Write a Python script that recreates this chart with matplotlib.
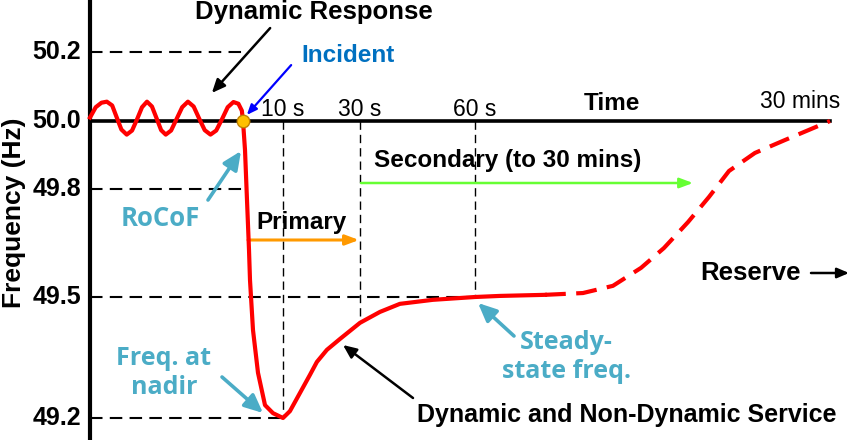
import numpy as np
import matplotlib
matplotlib.use('Agg')
import matplotlib.pyplot as plt

# ---- data (time in s, frequency in Hz) ----
osc_t = [-40, -38.5, -37.0, -35.6, -34.2, -33.0, -31.8, -30.4, -29.0, -27.7,
         -26.4, -25.1, -23.8, -22.6, -21.4, -20.2, -18.8, -17.4, -15.9, -14.4,
         -12.9, -11.5, -10.0, -8.5, -7.0, -5.5, -4.0, -2.5, -1.2, -0.3, 0]
osc_f = [50.01, 50.04, 50.053, 50.056, 50.045, 50.01, 49.975, 49.96, 49.972, 50.005,
         50.04, 50.056, 50.042, 50.008, 49.973, 49.96, 49.972, 50.005, 50.04, 50.056,
         50.042, 50.008, 49.973, 49.96, 49.972, 50.005, 50.04, 50.055, 50.05, 50.03, 50.0]

resp_t = [0, 0.5, 1.0, 1.5, 1.75, 2.5, 3.75, 5.5, 7.5, 10, 11.8, 14.4, 17.0, 18.8,
          21.4, 24.8, 30, 35.2, 40.4, 49.0, 60, 182, 403]
resp_f = [50.0, 49.915, 49.769, 49.631, 49.547, 49.418, 49.312, 49.232, 49.212, 49.2,
          49.217, 49.262, 49.307, 49.339, 49.369, 49.396, 49.436, 49.463, 49.483,
          49.493, 49.5, 49.503, 49.506]

reserve_t = [403, 589, 736, 874, 986, 1104, 1207, 1305, 1432, 1579, 1741, 1800]
reserve_f = [49.506, 49.511, 49.531, 49.581, 49.636, 49.708, 49.778, 49.853, 49.906,
             49.944, 49.985, 50.0]

freq_ticks = [50.2, 50.0, 49.8, 49.5, 49.2]
freq_labels = ['50.2', '50.0', '49.8', '49.5', '49.2']
time_marks = [10, 30, 60]
time_labels = ['10 s', '30 s', '60 s']
t_end = 1800
nadir_t, nadir_f = 10, 49.2
steady_t, steady_f = 60, 49.5
t_start = -40


# ---- non-linear axes of the sketch: piecewise linear scales ----
def piecewise(xp, fp):
    xp = np.asarray(xp, float)
    fp = np.asarray(fp, float)

    def f(x):
        x = np.asarray(x, float)
        y = np.interp(x, xp, fp)
        lo = fp[0] + (x - xp[0]) * (fp[1] - fp[0]) / (xp[1] - xp[0])
        hi = fp[-1] + (x - xp[-1]) * (fp[-1] - fp[-2]) / (xp[-1] - xp[-2])
        return np.where(x < xp[0], lo, np.where(x > xp[-1], hi, y))
    return f


t_knots = [-40, 0, 10, 30, 60, 1800]
t_pix = [90, 243, 283, 360, 475, 830]
f_knots = [49.2, 49.5, 49.8, 50.0, 50.2]
f_pix = [-418, -297, -189, -121, -52]

t_fwd, t_inv = piecewise(t_knots, t_pix), piecewise(t_pix, t_knots)
f_fwd, f_inv = piecewise(f_knots, f_pix), piecewise(f_pix, f_knots)

W, H = 850, 447
fig = plt.figure(figsize=(W / 100, H / 100), dpi=100)
ax = fig.add_axes([0, 0, 1, 1])
ax.set_xscale('function', functions=(t_fwd, t_inv))
ax.set_yscale('function', functions=(f_fwd, f_inv))
ax.set_xlim(float(t_inv(0)), float(t_inv(W)))
ax.set_ylim(float(f_inv(-H)), float(f_inv(0)))
ax.axis('off')

BOLD = dict(family='Liberation Sans', weight='bold')
REG = dict(family='Liberation Sans')
CAL = dict(family='Open Sans', weight='bold')
TEAL = '#4BACC6'


def px(x, y):
    return (x / W, 1 - y / H)


# reference dashed lines
dash_ref = dict(color='black', lw=1.5, ls=(0, (6, 3.5)), zorder=2)
ax.plot([t_start, 0], [50.2, 50.2], **dash_ref)
ax.plot([t_start, 0], [49.8, 49.8], **dash_ref)
ax.plot([t_start, steady_t], [steady_f, steady_f], **dash_ref)
ax.plot([t_start, nadir_t], [nadir_f, nadir_f], **dash_ref)

dash_v = dict(color='black', lw=1.0, ls=(0, (6, 3.6)), zorder=2)
ax.plot([10, 10], [50.0, 49.2], **dash_v)
ax.plot([30, 30], [50.0, 49.436], **dash_v)
ax.plot([60, 60], [50.0, 49.5], **dash_v)

# axes lines
ax.plot([t_start, t_end], [50.0, 50.0], color='black', lw=2.6, zorder=3)
ax.plot([t_start, t_start], [float(f_inv(-440)), float(f_inv(0))],
        color='black', lw=3, solid_capstyle='butt', zorder=3)

# frequency curve
ax.plot(osc_t, osc_f, color='red', lw=3, zorder=4, solid_joinstyle='round')
ax.plot(resp_t, resp_f, color='red', lw=3, zorder=4, solid_joinstyle='round')
ax.plot(reserve_t, reserve_f, color='red', lw=3, ls=(0, (5, 2.5)), zorder=4)
ax.plot([0], [50.0], 'o', ms=9, mfc='#FFC000', mec='#C08000', mew=1, zorder=6)

# tick labels
for f, lab in zip(freq_ticks, freq_labels):
    ax.text(*px(81, -f_fwd(f)), lab, transform=ax.transAxes, ha='right',
            va='center', fontsize=18, **BOLD)
for t, lab in zip(time_marks, time_labels):
    ax.text(t, 50.0, lab, ha='center', va='bottom', fontsize=16.5, **REG)
ax.text(*px(800, 113), '30 mins', transform=ax.transAxes, ha='center',
        va='bottom', fontsize=16.5, **REG)
ax.text(*px(612, 115), 'Time', transform=ax.transAxes, ha='center',
        va='bottom', fontsize=17.5, **BOLD)
ax.text(*px(14, 213), 'Frequency (Hz)', transform=ax.transAxes, ha='center',
        va='center', rotation=90, fontsize=19, **BOLD)

# annotations
ax.text(*px(314, 12), 'Dynamic Response', transform=ax.transAxes, ha='center',
        va='center', fontsize=18.5, **BOLD)
ax.annotate('', xy=px(210, 95), xytext=px(272, 26), xycoords='axes fraction',
            arrowprops=dict(arrowstyle='-|>,head_length=0.8,head_width=0.35',
                            color='black', lw=1.8))

ax.text(*px(348, 55), 'Incident', transform=ax.transAxes, ha='center',
        va='center', fontsize=17.5, color='#0070C0', **BOLD)
ax.annotate('', xy=px(245, 117), xytext=px(293, 63), xycoords='axes fraction',
            arrowprops=dict(arrowstyle='-|>,head_length=0.6,head_width=0.25',
                            color='#0000FF', lw=1.6))

ax.text(*px(508, 160), 'Secondary (to 30 mins)', transform=ax.transAxes,
        ha='center', va='center', fontsize=17.5, **BOLD)
ax.annotate('', xy=px(693, 183), xytext=px(361, 183), xycoords='axes fraction',
            arrowprops=dict(arrowstyle='-|>,head_length=0.8,head_width=0.3',
                            color='#66FF33', lw=1.8, shrinkA=0, shrinkB=0))

ax.text(*px(302, 223), 'Primary', transform=ax.transAxes, ha='center',
        va='center', fontsize=17.5, **BOLD)
ax.annotate('', xy=px(359, 240), xytext=px(248, 240), xycoords='axes fraction',
            arrowprops=dict(arrowstyle='-|>,head_length=0.8,head_width=0.3',
                            color='#FF9900', lw=2.2, shrinkA=0, shrinkB=0))

ax.text(*px(160, 218), 'RoCoF', transform=ax.transAxes, ha='center',
        va='center', fontsize=18.5, color=TEAL, **CAL)
ax.annotate('', xy=px(241, 151), xytext=px(208, 200), xycoords='axes fraction',
            arrowprops=dict(arrowstyle='-|>,head_length=1.1,head_width=0.5',
                            color=TEAL, lw=2.6, shrinkA=0, shrinkB=0))

ax.text(*px(164, 373), 'Freq. at\nnadir', transform=ax.transAxes, ha='center',
        va='center', fontsize=18, color=TEAL, linespacing=1.2, **CAL)
ax.annotate('', xy=px(263, 413), xytext=px(222, 377), xycoords='axes fraction',
            arrowprops=dict(arrowstyle='-|>,head_length=1.1,head_width=0.5',
                            color=TEAL, lw=2.6, shrinkA=0, shrinkB=0))

ax.text(*px(566, 357), 'Steady-\nstate freq.', transform=ax.transAxes,
        ha='center', va='center', fontsize=18, color=TEAL, linespacing=1.2, **CAL)
ax.annotate('', xy=px(478, 303), xytext=px(514, 336), xycoords='axes fraction',
            arrowprops=dict(arrowstyle='-|>,head_length=1.1,head_width=0.5',
                            color=TEAL, lw=2.6, shrinkA=0, shrinkB=0))

ax.text(*px(751, 273), 'Reserve', transform=ax.transAxes, ha='center',
        va='center', fontsize=18.5, **BOLD)
ax.annotate('', xy=px(849, 273), xytext=px(811, 273), xycoords='axes fraction',
            arrowprops=dict(arrowstyle='-|>,head_length=0.7,head_width=0.3',
                            color='black', lw=1.8, shrinkA=0, shrinkB=0))

ax.text(*px(627, 415), 'Dynamic and Non-Dynamic Service', transform=ax.transAxes,
        ha='center', va='center', fontsize=18, **BOLD)
ax.annotate('', xy=px(343, 345), xytext=px(413, 398), xycoords='axes fraction',
            arrowprops=dict(arrowstyle='-|>,head_length=0.8,head_width=0.35',
                            color='black', lw=1.8, shrinkA=0, shrinkB=0))

fig.savefig('out.png', dpi=100, facecolor='white')
